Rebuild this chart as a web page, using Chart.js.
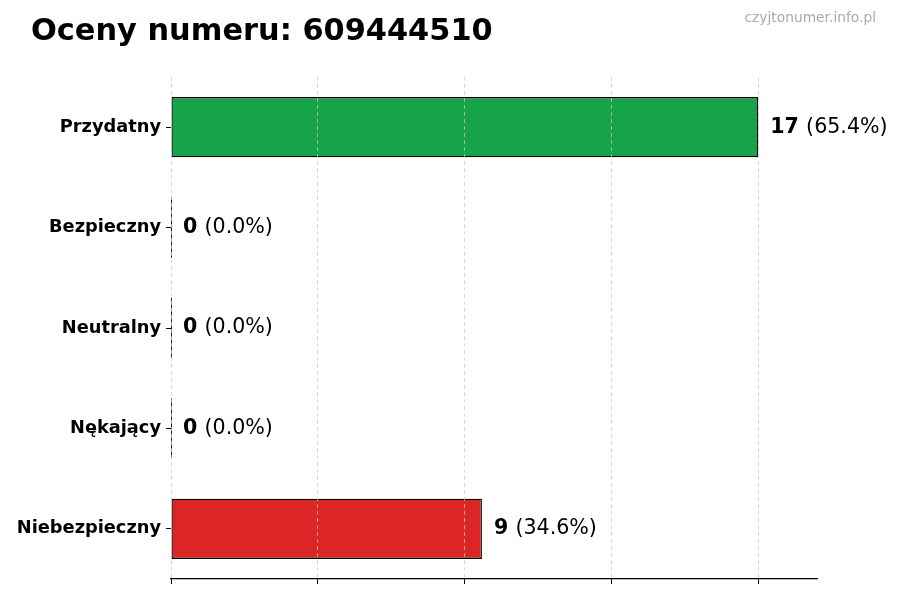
<!DOCTYPE html>
<html lang="pl">
<head>
    <meta charset="UTF-8">
    <title>Oceny numeru: 609444510</title>
    <script src="https://cdn.jsdelivr.net/npm/chart.js"></script>
    <style>
        body {
            margin: 0;
            padding: 0;
            background: #ffffff;
            font-family: 'DejaVu Sans', sans-serif;
        }
        .wrap {
            position: relative;
            width: 900px;
            height: 600px;
        }
        .title {
            position: absolute;
            left: 31px;
            top: 12px;
            font-size: 30.4px;
            line-height: 36px;
            font-weight: bold;
            color: #000;
        }
        .watermark {
            position: absolute;
            right: 24px;
            top: 8px;
            font-size: 13.8px;
            line-height: 18px;
            color: #aaaaaa;
        }
        canvas {
            position: absolute;
            left: 0;
            top: 0;
        }
    </style>
</head>
<body>
    <div class="wrap">
        <canvas id="chart" width="900" height="600"></canvas>
        <div class="title">Oceny numeru: 609444510</div>
        <div class="watermark">czyjtonumer.info.pl</div>
    </div>

    <script>
        // Data
        const categories = ['Przydatny', 'Bezpieczny', 'Neutralny', 'Nękający', 'Niebezpieczny'];
        const counts = [17, 0, 0, 0, 9];
        const barColors = ['#16a34a', '#16a34a', '#9ca3af', '#dc2626', '#dc2626'];
        const xTicks = [0, 4.25, 8.5, 12.75, 17];

        const total = counts.reduce((a, b) => a + b, 0);
        const xMax = Math.max(...counts) * 1.1;

        // value labels + thin line for empty bars
        const valueLabels = {
            id: 'valueLabels',
            afterDatasetsDraw(chart) {
                const ctx = chart.ctx;
                const meta = chart.getDatasetMeta(0);
                ctx.save();
                meta.data.forEach((bar, i) => {
                    const v = counts[i];
                    if (v === 0) {
                        ctx.strokeStyle = '#222';
                        ctx.lineWidth = 1;
                        ctx.beginPath();
                        ctx.moveTo(Math.round(bar.x) + 0.5, bar.y - bar.height / 2);
                        ctx.lineTo(Math.round(bar.x) + 0.5, bar.y + bar.height / 2);
                        ctx.stroke();
                    }
                    const pct = total ? (v / total * 100).toFixed(1) : '0.0';
                    let x = bar.x + 12;
                    ctx.fillStyle = '#000';
                    ctx.textBaseline = 'middle';
                    ctx.textAlign = 'left';
                    ctx.font = 'bold 20.6px "DejaVu Sans"';
                    const bold = String(v);
                    ctx.fillText(bold, x, bar.y);
                    x += ctx.measureText(bold + ' ').width;
                    ctx.font = '20.6px "DejaVu Sans"';
                    ctx.fillText('(' + pct + '%)', x, bar.y);
                });
                ctx.restore();
            }
        };

        new Chart(document.getElementById('chart'), {
            type: 'bar',
            data: {
                labels: categories,
                datasets: [{
                    data: counts,
                    backgroundColor: barColors,
                    borderColor: '#000',
                    borderWidth: 1.3,
                    borderSkipped: false,
                    barPercentage: 0.6,
                    categoryPercentage: 1.0
                }]
            },
            options: {
                indexAxis: 'y',
                responsive: false,
                animation: false,
                devicePixelRatio: 1,
                layout: {
                    padding: { top: 77, right: 83, bottom: 0, left: 0 }
                },
                plugins: {
                    legend: { display: false },
                    tooltip: { enabled: false }
                },
                scales: {
                    x: {
                        min: 0,
                        max: xMax,
                        afterBuildTicks(scale) {
                            scale.ticks = xTicks.map(v => ({ value: v }));
                        },
                        afterFit(scale) {
                            scale.height = 21;
                        },
                        ticks: { display: false },
                        grid: {
                            color: 'rgba(200,200,200,0.7)',
                            lineWidth: 1,
                            drawTicks: true,
                            tickLength: 5,
                            tickColor: '#000',
                            tickWidth: 1,
                            z: 1
                        },
                        border: {
                            display: true,
                            color: '#000',
                            width: 1.2,
                            dash: [4, 3],
                            z: 2
                        }
                    },
                    y: {
                        afterFit(scale) {
                            scale.width = 171;
                        },
                        ticks: {
                            color: '#000',
                            padding: 5,
                            font: { family: 'DejaVu Sans', size: 17.8, weight: 'bold' }
                        },
                        grid: {
                            offset: false,
                            drawOnChartArea: false,
                            drawTicks: true,
                            tickLength: 5,
                            tickColor: '#000'
                        },
                        border: { display: false }
                    }
                }
            },
            plugins: [valueLabels]
        });
    </script>
</body>
</html>
